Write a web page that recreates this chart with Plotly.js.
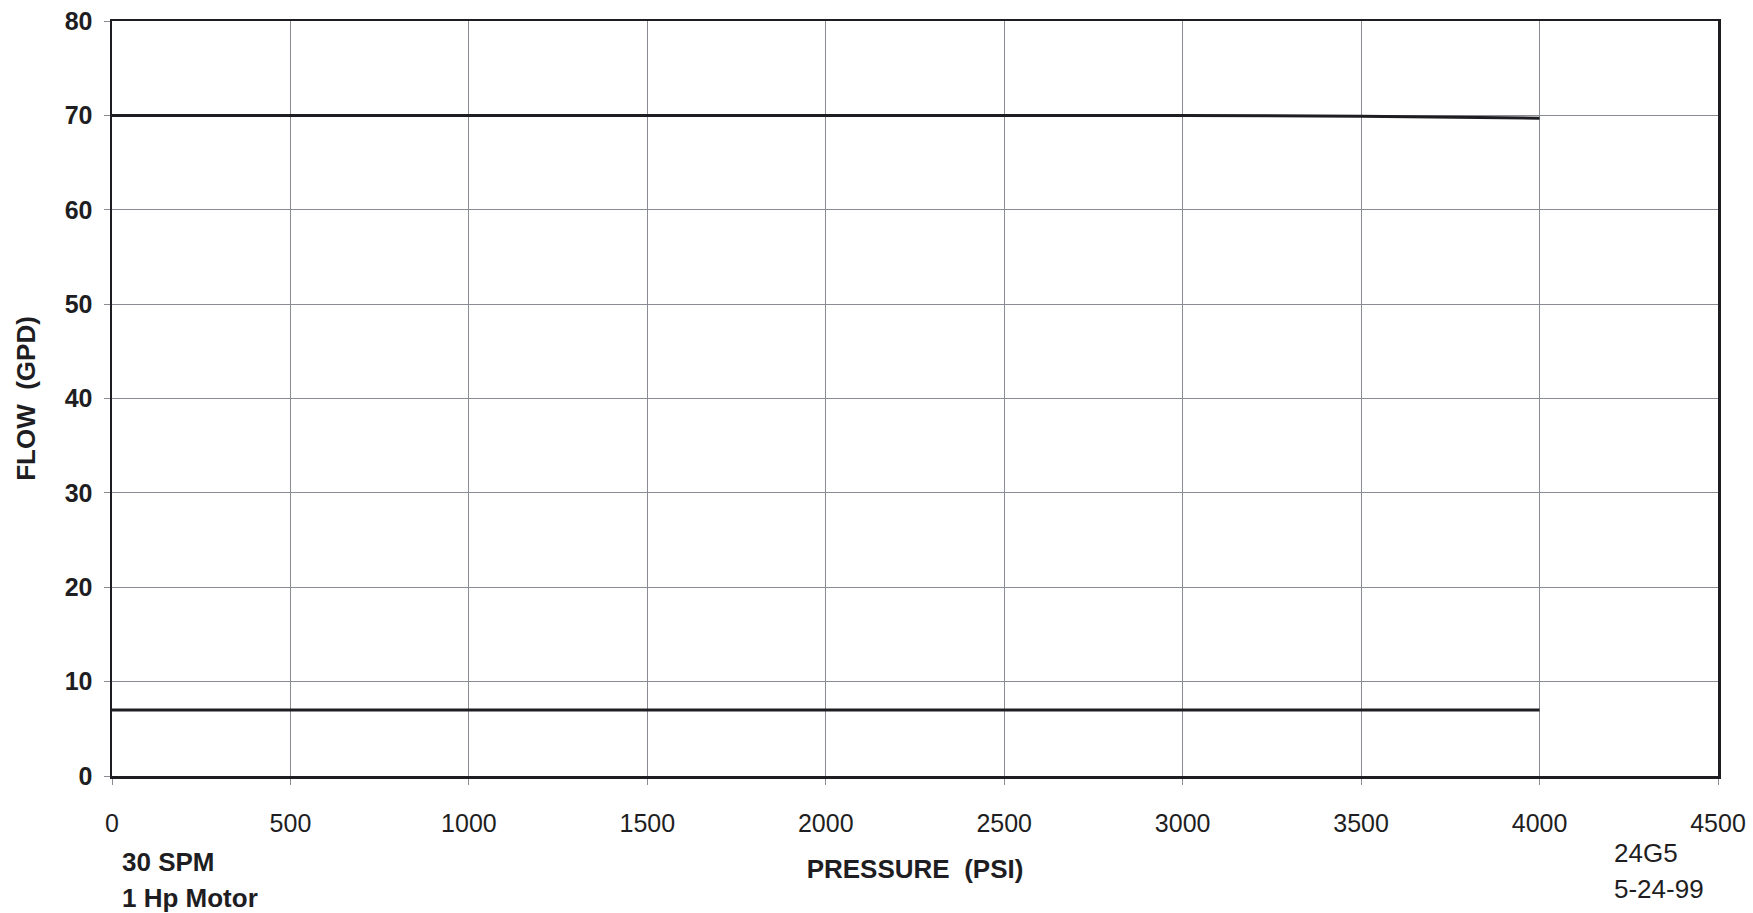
<!DOCTYPE html>
<html>
<head>
<meta charset="utf-8">
<script src="https://cdn.plot.ly/plotly-3.0.1.min.js"></script>
<style>
html,body{margin:0;padding:0;background:#fff;}
#chart{width:1753px;height:913px;}
</style>
</head>
<body>
<div id="chart"></div>
<script>
// Data
var pressure = [0, 1000, 2000, 3000, 3500, 4000];
var flowUpper = [70, 70, 70, 70, 69.9, 69.7];
var flowLower = [7, 7, 7, 7, 7, 7];
var xTickVals = [0, 500, 1000, 1500, 2000, 2500, 3000, 3500, 4000, 4500];
var yTickVals = [0, 10, 20, 30, 40, 50, 60, 70, 80];
var notesLeft = ["30 SPM", "1 Hp Motor"];
var notesRight = ["24G5", "5-24-99"];

var FONT = "Liberation Sans, Arial, Helvetica, sans-serif";
var INK = "#1e1e22";

var traces = [
  {x: pressure, y: flowUpper, type: "scatter", mode: "lines",
   line: {color: INK, width: 3}, showlegend: false, hoverinfo: "x+y"},
  {x: pressure, y: flowLower, type: "scatter", mode: "lines",
   line: {color: INK, width: 3}, showlegend: false, hoverinfo: "x+y"}
];

var annotations = [];
notesLeft.forEach(function (t, i) {
  annotations.push({text: "<b>" + t + "</b>", xref: "paper", yref: "paper",
    x: 0.005, y: -0.114 - i * 0.047, xanchor: "left", yanchor: "middle",
    showarrow: false, font: {family: FONT, size: 26, color: INK}});
});
notesRight.forEach(function (t, i) {
  annotations.push({text: t, xref: "paper", yref: "paper",
    x: 0.934, y: -0.102 - i * 0.048, xanchor: "left", yanchor: "middle",
    showarrow: false, font: {family: FONT, size: 26, color: INK}});
});

var layout = {
  width: 1753, height: 913,
  paper_bgcolor: "#ffffff", plot_bgcolor: "#ffffff",
  margin: {l: 112, r: 35, t: 21, b: 137},
  font: {family: FONT, color: INK},
  xaxis: {
    range: [0, 4500], tickvals: xTickVals, ticktext: xTickVals.map(String),
    showgrid: true, gridcolor: "#8a8c94", gridwidth: 1,
    zeroline: false, showline: true, linecolor: INK, linewidth: 2.5, mirror: true,
    ticks: "outside", ticklen: 6, tickcolor: "#8a8c94",
    ticklabelstandoff: 17,
    tickfont: {family: FONT, size: 25, color: INK},
    title: {text: "<b>PRESSURE  (PSI)</b>", font: {family: FONT, size: 26, color: INK}, standoff: 25}
  },
  yaxis: {
    range: [0, 80], tickvals: yTickVals, ticktext: yTickVals.map(function (v) { return "<b>" + v + "</b>"; }),
    showgrid: true, gridcolor: "#8a8c94", gridwidth: 1,
    zeroline: false, showline: true, linecolor: INK, linewidth: 2.5, mirror: true,
    ticks: "outside", ticklen: 6, tickcolor: "#8a8c94",
    ticklabelstandoff: 6,
    tickfont: {family: FONT, size: 25, color: INK},
    title: {text: "<b>FLOW  (GPD)</b>", font: {family: FONT, size: 26, color: INK}, standoff: 22}
  },
  annotations: annotations,
  showlegend: false
};

Plotly.newPlot("chart", traces, layout, {displayModeBar: false, staticPlot: true});
</script>
</body>
</html>
